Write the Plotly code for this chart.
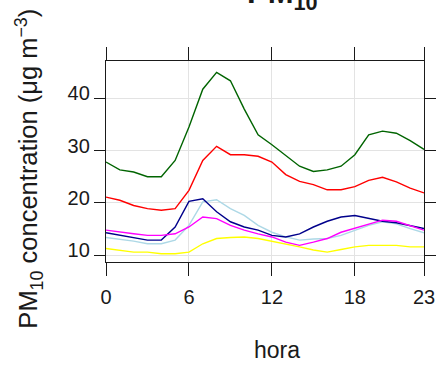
import plotly.graph_objects as go

hora = list(range(24))

green = [27.8, 26.3, 25.9, 25.0, 25.0, 28.1, 34.5, 41.7, 44.9, 43.3, 37.9, 33.0,
         31.1, 29.1, 27.0, 26.0, 26.3, 27.0, 29.2, 33.0, 33.7, 33.3, 31.9, 30.2]
red = [21.1, 20.5, 19.5, 18.9, 18.6, 18.9, 22.4, 28.1, 30.8, 29.2, 29.2, 28.9,
       27.8, 25.4, 24.1, 23.5, 22.5, 22.5, 23.1, 24.3, 24.9, 24.0, 22.8, 21.9]
navy = [14.3, 13.8, 13.4, 12.9, 12.9, 15.4, 20.3, 20.8, 18.3, 16.4, 15.4, 14.8,
        13.8, 13.5, 14.1, 15.4, 16.5, 17.3, 17.6, 17.0, 16.5, 16.2, 15.7, 15.1]
lightblue = [13.4, 13.1, 12.7, 12.2, 12.2, 12.9, 15.7, 20.2, 20.6, 18.9, 17.6, 15.7,
             14.4, 13.5, 12.9, 13.1, 13.2, 13.8, 14.8, 15.7, 16.4, 16.0, 15.1, 14.3]
magenta = [14.8, 14.4, 14.1, 13.8, 13.8, 14.1, 15.4, 17.3, 17.0, 15.7, 14.8, 14.1,
           13.5, 12.5, 11.9, 12.5, 13.2, 14.4, 15.2, 16.0, 16.7, 16.5, 15.7, 14.8]
yellow = [11.3, 11.0, 10.6, 10.6, 10.3, 10.3, 10.6, 12.2, 13.2, 13.4, 13.5, 13.2,
          12.7, 12.2, 11.6, 11.0, 10.6, 11.1, 11.6, 11.9, 11.9, 11.9, 11.6, 11.6]

x_ticks = [0, 6, 12, 18, 23]
y_ticks = [10, 20, 30, 40]

series = [
    (green, "#006400"),
    (red, "#ff0000"),
    (lightblue, "#add8e6"),
    (navy, "#00008b"),
    (magenta, "#ff00ff"),
    (yellow, "#ffff00"),
]

FONT = "Liberation Sans, Arial, sans-serif"

fig = go.Figure()
for vals, col in series:
    fig.add_trace(go.Scatter(x=hora, y=vals, mode="lines",
                             line=dict(color=col, width=1.4), showlegend=False,
                             hoverinfo="skip"))

axis_common = dict(showline=True, linecolor="#1a1a1a", linewidth=1.3,
                   mirror="allticks", ticks="outside", tickcolor="#1a1a1a",
                   tickwidth=1.3, showgrid=True, gridcolor="#e3e3e3",
                   gridwidth=1, zeroline=False, automargin=False,
                   tickfont=dict(family=FONT, size=20, color="#1a1a1a"))

fig.update_layout(
    width=439, height=366,
    margin=dict(l=106, r=15, t=61, b=104),
    paper_bgcolor="white", plot_bgcolor="white",
    font=dict(family=FONT, color="#1a1a1a"),
    xaxis=dict(range=[0, 23], tickvals=x_ticks, ticklen=13,
               ticklabelstandoff=4, **axis_common),
    yaxis=dict(range=[8.72, 47.08], tickvals=y_ticks, ticklen=11,
               ticklabelshift=-5, **axis_common),
)

fig.add_annotation(text="<b>PM<sub>10</sub></b>", xref="paper", yref="paper",
                   x=0.555, y=1.219, xanchor="center", yanchor="bottom",
                   showarrow=False, font=dict(family=FONT, size=31, color="#1a1a1a"))
fig.add_annotation(text="hora", xref="paper", yref="paper",
                   x=0.539, y=-0.44, xanchor="center", yanchor="middle",
                   showarrow=False, font=dict(family=FONT, size=23, color="#1a1a1a"))
fig.add_annotation(text="PM<sub>10</sub> concentration (μg m<sup>−3</sup>)",
                   xref="paper", yref="paper", textangle=-90,
                   x=-0.245, y=0.465, xanchor="center", yanchor="middle",
                   showarrow=False, font=dict(family=FONT, size=25.5, color="#1a1a1a"))

fig.write_html("out.html", config=dict(displayModeBar=False),
               post_script="document.body.style.margin='0';document.body.style.overflow='hidden';")
